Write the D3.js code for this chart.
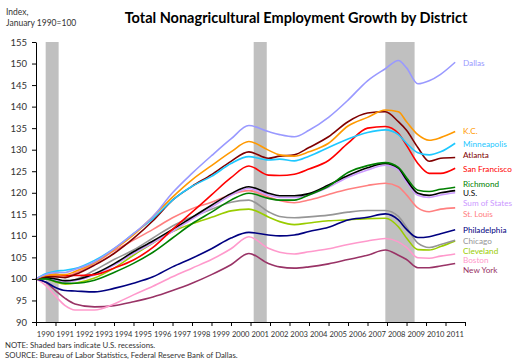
<!DOCTYPE html>
<html>
<head>
<meta charset="utf-8">
<script src="https://cdn.jsdelivr.net/npm/d3@7"></script>
<style>
  body { margin: 0; background: #fff; }
  svg { display: block; font-family: Lato, "Liberation Sans", sans-serif; }
</style>
</head>
<body>
<div id="chart"></div>
<script>
// index, January 1990 = 100
const months = ["1990-01","1990-07","1991-01","1991-07","1992-01","1993-01","1994-01","1995-01",
  "1996-01","1997-01","1998-01","1999-01","2000-01","2000-12","2001-12","2002-07","2003-04",
  "2004-01","2005-01","2006-01","2007-01","2007-12","2008-08","2009-01","2009-08","2010-03",
  "2010-10","2011-07"];

const dallas       = [100,101,101.5,101.5,102.2,104,107,110.5,114.5,120,124.5,128.6,132.5,135.6,134.2,133.5,133,134.5,137.5,141.5,146,148.8,150.7,149,145.3,146,147.5,150.3];
const kansasCity   = [100,100.8,101,101,101.7,103.8,106.8,110.2,114.5,119,123,126.3,129.5,131.9,129.9,128.8,128.5,129.5,131.5,135.5,137.5,139.2,138.8,136.5,133.5,132.2,132.8,134.2];
const minneapolis  = [100,101.2,101.8,102,102.4,104.3,107,110.5,114,118.3,121.5,123.8,126.8,128.4,127.6,127.8,127.4,128.5,130.5,132.5,134,134.6,133.5,131.5,129.3,128.8,129.5,131.5];
const atlanta      = [100,100.5,100.5,100.3,101,103.2,105.9,109.4,113.5,118.3,121.5,124.2,127.3,129.5,128,128.5,128.8,130.5,133,136.5,138.5,138.8,136.5,134.5,130.5,127.3,128,128.2];
const sanFrancisco = [100,100.8,101,100.8,100.8,101,102.5,104.4,107.3,111.5,115.5,119.5,123.5,126.2,124.1,124,124.3,125.5,127.5,131.5,135,135.4,133.8,131,126.8,124.5,124.5,125.7];
const richmond     = [100,100,99.4,99,99,99.7,101.5,103.6,106.2,109.5,112.8,115.5,118.3,119.9,118.7,118.3,118.3,119.5,121.5,124.7,126.3,127,125.9,123.5,120.6,120.3,120.8,121.3];
const us           = [100,100.3,100,99.6,99.8,101.2,103.5,106.3,108.8,111.5,114.3,117.1,119.8,121.4,119.9,119.3,119.3,119.8,121.8,124,125.8,126.8,125.7,123,119.9,119.4,120,120.5];
const sumOfStates  = [100,100.2,99.8,99.4,99.6,100.9,103.2,105.9,108.4,111,113.9,116.6,119.4,121,119.5,118.9,118.9,119.5,121.3,123.6,125.3,126.4,125.3,122.5,119.4,118.9,119.5,120];
const stLouis      = [100,100.8,100.5,100.5,101.3,103.6,106.5,109,111.5,114.2,116.3,117.8,119.6,120.5,119,118.2,117.7,118.3,119.6,120.8,121.7,122.2,121.4,119.5,116.5,115.6,116.2,116.5];
const philadelphia = [100,99.3,98,97.3,97.2,97,97.8,99,100.5,102.8,104.8,107,109.5,110.8,110.2,110,110.2,111,112,113.7,114.3,115.1,113.7,111.5,109.6,109.8,110.5,111.4];
const chicago      = [100,100,99.7,99.3,99.8,102,104.5,106.7,109.5,112.3,114.4,116.2,117.8,118.3,115.6,114.5,114.2,114.4,114.8,115.5,115.9,115.9,114.5,112,108.3,107.3,108,109];
const cleveland    = [100,100,99.3,98.8,99,100.2,102.5,105.5,108.3,111,112.8,114.3,115.8,116.2,114.4,113.3,112.6,113,113.5,113.7,114,114.1,112.1,109.5,106.8,106.7,107.5,108.8];
const boston       = [100,98.5,96,93.8,92.8,92.8,94.2,96.3,98.3,100.5,102.5,104.5,107,109.8,107.1,106.2,105.8,106.3,107,108,108.8,109.4,108.6,107.3,104.9,104.8,105.3,105.8];
const newYork      = [100,99.2,97.3,95.5,94.2,93.5,93.8,94.7,95.8,97.3,99,101,103.3,105.9,103.6,102.8,102.5,102.8,103.5,104.5,105.5,106.7,105.5,104.5,102.6,102.6,103,103.6];

const recessionStart = ["1990-07","2001-03","2007-12"];
const recessionEnd   = ["1991-03","2001-11","2009-06"];

const yTicks = [90,95,100,105,110,115,120,125,130,135,140,145,150,155];
const years = d3.range(1990, 2012);

// legend order, top to bottom
const series = [
  {name: "Dallas",        values: dallas,       color: "#9999ff", labelAt: 150.1},
  {name: "K.C.",          values: kansasCity,   color: "#ff9900", labelAt: 134.3},
  {name: "Minneapolis",   values: minneapolis,  color: "#1ec8ff", labelAt: 131.3},
  {name: "Atlanta",       values: atlanta,      color: "#800000", labelAt: 128.8},
  {name: "San Francisco", values: sanFrancisco, color: "#ff0000", labelAt: 125.5},
  {name: "Richmond",      values: richmond,     color: "#008000", labelAt: 122.0},
  {name: "U.S.",          values: us,           color: "#000000", labelAt: 119.9},
  {name: "Sum of States", values: sumOfStates,  color: "#cc99ff", labelAt: 117.6},
  {name: "St. Louis",     values: stLouis,      color: "#ff8080", labelAt: 115.1},
  {name: "Philadelphia",  values: philadelphia, color: "#000080", labelAt: 111.4},
  {name: "Chicago",       values: chicago,      color: "#969696", labelAt: 108.8},
  {name: "Cleveland",     values: cleveland,    color: "#99cc00", labelAt: 106.5},
  {name: "Boston",        values: boston,       color: "#ff99cc", labelAt: 104.4},
  {name: "New York",      values: newYork,      color: "#993366", labelAt: 102.1}
];

const width = 525, height = 363;
const parseMonth = d3.timeParse("%Y-%m");
const dates = months.map(parseMonth);

const x = d3.scaleTime()
  .domain([new Date(1990, 0, 1), new Date(2012, 0, 1)])
  .range([36, 465]);
const y = d3.scaleLinear().domain([90, 155]).range([322, 42]);

const svg = d3.select("#chart").append("svg")
  .attr("width", width)
  .attr("height", height);

// recession bars
svg.append("g").selectAll("rect")
  .data(recessionStart.map((s, i) => [parseMonth(s), parseMonth(recessionEnd[i])]))
  .join("rect")
  .attr("x", d => x(d[0]))
  .attr("width", d => x(d[1]) - x(d[0]))
  .attr("y", y(155))
  .attr("height", y(90) - y(155))
  .attr("fill", "#c0c0c0");

const line = d3.line()
  .x((d, i) => x(dates[i]))
  .y(d => y(d))
  .curve(d3.curveMonotoneX);

svg.append("g").selectAll("path")
  .data(series.slice().reverse())
  .join("path")
  .attr("d", d => line(d.values))
  .attr("fill", "none")
  .attr("stroke", d => d.color)
  .attr("stroke-width", 1.6)
  .attr("stroke-linejoin", "round");

// y axis
const yAxis = svg.append("g")
  .attr("transform", "translate(36,0)")
  .call(d3.axisLeft(y).tickValues(yTicks).tickSize(4).tickPadding(5).tickSizeOuter(0));
yAxis.selectAll("text").attr("font-size", 9.5).attr("fill", "#333").attr("font-family", "Lato, sans-serif");

// x axis: ticks at year boundaries, labels centred in each year
const xAxis = svg.append("g")
  .attr("transform", "translate(0,322)")
  .call(d3.axisBottom(x).tickValues(years.concat([2012]).map(yr => new Date(yr, 0, 1)))
    .tickSize(4).tickSizeOuter(0).tickFormat(""));
svg.selectAll(".domain, .tick line").attr("stroke", "#000");

svg.append("g").selectAll("text")
  .data(years)
  .join("text")
  .attr("x", yr => x(new Date(yr, 6, 1)))
  .attr("y", 337)
  .attr("text-anchor", "middle")
  .attr("font-size", 7.6)
  .attr("fill", "#333")
  .text(yr => yr);

// end labels
svg.append("g").selectAll("text")
  .data(series)
  .join("text")
  .attr("x", 463)
  .attr("y", d => y(d.labelAt) + 3)
  .attr("font-size", 8.2)
  .attr("fill", d => d.color)
  .text(d => d.name);

// titles and notes
svg.append("text")
  .attr("x", 296).attr("y", 23)
  .attr("text-anchor", "middle")
  .attr("font-size", 14.5)
  .attr("font-weight", "bold")
  .text("Total Nonagricultural Employment Growth by District");

svg.append("text").attr("x", 6).attr("y", 14.5).attr("font-size", 8.5).attr("fill", "#333").text("Index,");
svg.append("text").attr("x", 6).attr("y", 26).attr("font-size", 8.5).attr("fill", "#333").text("January 1990=100");

svg.append("text").attr("x", 5).attr("y", 347.5).attr("font-size", 7.8).attr("fill", "#333")
  .text("NOTE: Shaded bars indicate U.S. recessions.");
svg.append("text").attr("x", 5).attr("y", 357.5).attr("font-size", 7.8).attr("fill", "#333")
  .text("SOURCE: Bureau of Labor Statistics, Federal Reserve Bank of Dallas.");
</script>
</body>
</html>
